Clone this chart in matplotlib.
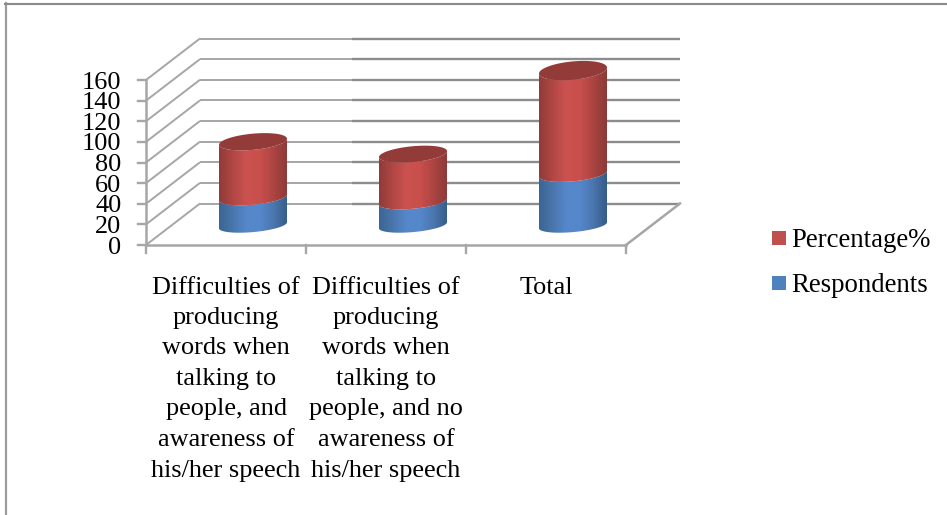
import numpy as np
import matplotlib
matplotlib.use("Agg")
import matplotlib.pyplot as plt
from matplotlib.patches import Polygon, Rectangle
from matplotlib.colors import LinearSegmentedColormap

categories = [
    "Difficulties of\nproducing\nwords when\ntalking to\npeople, and\nawareness of\nhis/her speech",
    "Difficulties of\nproducing\nwords when\ntalking to\npeople, and no\nawareness of\nhis/her speech",
    "Total",
]
respondents = [27, 23, 50]
percentage = [54, 46, 100]
y_ticks = [0, 20, 40, 60, 80, 100, 120, 140, 160]
legend_labels = ["Percentage%", "Respondents"]

W, H = 947, 515
plt.rcParams["font.family"] = ["Liberation Serif", "DejaVu Serif"]
fig = plt.figure(figsize=(W / 100, H / 100), dpi=100, facecolor="white")
ax = fig.add_axes([0, 0, 1, 1])

# one category = 160 px, one value unit = 165/160 px; x=0 -> px 146, y=0 -> px 245
PX_X, PX_Y = 160.0, 165.0 / 160.0
ax.set_xlim(-146 / PX_X, (W - 146) / PX_X)
ax.set_ylim(-(H - 245) / PX_Y, 245 / PX_Y)
ax.axis("off")

DX, DY = 54 / PX_X, 41.5 / PX_Y          # depth offset of the back wall
GRID = "#a6a6a6"
DARK = "#8c8c8c"
n = len(categories)
FS = 18.9

# gridlines on the side wall and back wall
for v in y_ticks:
    ax.plot([0, DX], [v, v + DY], color=GRID, lw=1.4, zorder=1, solid_capstyle="butt")
    ax.plot([DX, 206 / PX_X], [v + DY, v + DY], color=GRID, lw=1.4, zorder=1, solid_capstyle="butt")
    ax.plot([206 / PX_X, n + DX], [v + DY, v + DY], color=DARK, lw=1.7, zorder=1, solid_capstyle="butt")

# floor and axes
ax.plot([0, n], [0, 0], color=GRID, lw=1.8, zorder=1)
ax.plot([n, n + DX], [0, DY], color=GRID, lw=1.8, zorder=1)
ax.plot([0, 0], [0, y_ticks[-1]], color=GRID, lw=1.8, zorder=1)
for v in y_ticks:
    ax.plot([-8 / PX_X, 0], [v, v], color=GRID, lw=1.7, zorder=1)
    ax.text(-24.5 / PX_X, v - 2.5, str(v), ha="right", va="center", fontsize=FS, color="black")
for i in range(n + 1):
    ax.plot([i, i], [0, -8 / PX_Y], color=GRID, lw=1.7, zorder=1)

for i, c in enumerate(categories):
    ax.text(i + 0.5, -31.5 / PX_Y, c, ha="center", va="top", fontsize=FS, color="black",
            linespacing=1.5, multialignment="center")

blue_cmap = LinearSegmentedColormap.from_list("b", ["#3a6493", "#4a76ad", "#5587cb", "#5587cb", "#4a76ad", "#365c88"])
red_cmap = LinearSegmentedColormap.from_list("r", ["#8f3b39", "#b04744", "#cc5250", "#c94f4d", "#ab4442", "#8a3a37"])
TOP_RED = "#933b39"
HALF_W = 34 / PX_X


def ellipse(cx, v, t):
    """Tilted ellipse around a bar axis, at value level v."""
    b = (6.5 + 0.016 * v) / PX_Y
    s = 3 / PX_Y
    return cx + HALF_W * np.cos(t), v + s * np.cos(t) - b * np.sin(t)


def segment(cx, v0, v1, cmap):
    t = np.linspace(0, np.pi, 60)
    x0, y0 = ellipse(cx, v0, t)       # lower front edge
    x1, y1 = ellipse(cx, v1, t)
    pts = np.vstack([np.column_stack([x0, y0]), np.column_stack([x1, y1])[::-1]])
    poly = Polygon(pts, closed=True, facecolor="none", edgecolor="none", zorder=3)
    ax.add_patch(poly)
    im = ax.imshow(np.linspace(0, 1, 256)[None, :], cmap=cmap, aspect="auto",
                   extent=(cx - HALF_W, cx + HALF_W, v0 - 20, v1 + 20), zorder=3)
    im.set_clip_path(poly)


for i in range(n):
    cx = i + 0.5 + DX / 2
    base = DY / 2 - 1.0
    r, p = respondents[i], percentage[i]
    segment(cx, base, base + r, blue_cmap)
    segment(cx, base + r, base + r + p, red_cmap)
    t = np.linspace(0, 2 * np.pi, 120)
    x, y = ellipse(cx, base + r + p, t)
    ax.add_patch(Polygon(np.column_stack([x, y]), closed=True, facecolor=TOP_RED, edgecolor="none", zorder=4))

ax.set_xlim(-146 / PX_X, (W - 146) / PX_X)
ax.set_ylim(-(H - 245) / PX_Y, 245 / PX_Y)

# legend
for label, col, py, base_py in zip(legend_labels, ["#c0504d", "#4f81bd"], [238, 283], [247, 292]):
    fig.add_artist(Rectangle((772 / W, 1 - (py + 7) / H), 14 / W, 14 / H, transform=fig.transFigure,
                             facecolor=col, edgecolor="none"))
    fig.text(791 / W, 1 - base_py / H, label, ha="left", va="baseline", fontsize=19.3, color="black")

# outer frame
fig.add_artist(plt.Line2D([6 / W, 6 / W], [0, 1 - 3 / H], transform=fig.transFigure, color="#9c9c9c", lw=1.6))
fig.add_artist(plt.Line2D([5 / W, 1], [1 - 4 / H, 1 - 4 / H], transform=fig.transFigure, color="#8a8a8a", lw=1.5))

fig.savefig("out.png", dpi=100, facecolor="white")
